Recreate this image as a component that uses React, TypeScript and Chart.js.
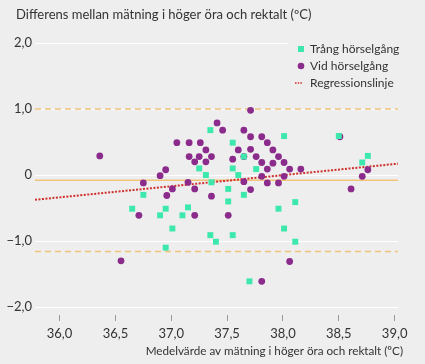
import { useEffect, useRef } from 'react';
import { Chart, registerables } from 'chart.js';

Chart.register(...registerables);

// ---- data ----
const tightLabel = 'Trång hörselgång';
const wideLabel = 'Vid hörselgång';
const regLabel = 'Regressionslinje';
const yTitle = 'Differens mellan mätning i höger öra och rektalt (ºC)';
const xTitle = 'Medelvärde av mätning i höger öra och rektalt (ºC)';

const tightX = [36.65, 36.75, 36.90, 36.95, 36.95, 37.01, 37.10, 37.15, 37.25, 37.31, 37.35, 37.36, 37.35, 37.40, 37.51, 37.51, 37.55, 37.55, 37.55, 37.60, 37.65, 37.65, 37.70, 37.76, 37.96, 38.01, 38.01, 38.11, 38.11, 38.50, 38.71, 38.76];
const tightY = [-0.51, -0.30, -0.61, -0.51, -1.10, -0.81, -0.61, -0.49, 0.10, 0.00, 0.68, -0.11, -0.91, -1.01, -0.21, -0.40, 0.49, 0.10, -0.91, 0.00, 0.28, -0.30, -1.61, 0.09, -0.51, 0.59, -0.81, -0.41, -1.01, 0.59, 0.19, 0.29];

const wideX = [36.36, 36.55, 36.71, 36.75, 36.90, 36.95, 36.96, 37.01, 37.05, 37.16, 37.16, 37.15, 37.21, 37.21, 37.21, 37.26, 37.25, 37.31, 37.31, 37.36, 37.36, 37.41, 37.46, 37.51, 37.55, 37.60, 37.65, 37.65, 37.65, 37.71, 37.71, 37.71, 37.71, 37.76, 37.81, 37.81, 37.81, 37.81, 37.86, 37.86, 37.86, 37.91, 37.91, 37.96, 37.96, 38.01, 38.01, 38.06, 38.06, 38.16, 38.51, 38.61, 38.71, 38.76];
const wideY = [0.29, -1.30, -0.61, -0.12, -0.01, 0.08, -0.31, -0.21, 0.49, 0.49, 0.28, -0.11, -0.21, -0.61, 0.20, 0.49, 0.28, 0.38, 0.20, 0.28, -0.32, 0.79, 0.68, -0.61, 0.24, 0.38, 0.68, -0.10, 0.28, 0.98, 0.58, 0.39, -0.22, 0.28, 0.58, 0.19, -0.02, -1.61, 0.49, 0.09, -0.12, 0.38, 0.18, 0.28, -0.12, 0.19, -0.02, 0.09, -1.31, 0.09, 0.58, -0.21, -0.02, 0.08];

const meanDiff = -0.08;
const upperLimit = 1.0;
const lowerLimit = -1.16;
const regX = [35.78, 39.03];
const regY = [-0.375, 0.172];

const xMin = 35.78;
const xMax = 39.03;
const yMin = -2.12;
const yMax = 2.0;
const xTicks = [36, 36.5, 37, 37.5, 38, 38.5, 39];
const xTickLabels = ['36,0', '36,5', '37,0', '37,5', '38,0', '38,5', '39,0'];
const yTicks = [-2, -1, 0, 1, 2];
const yTickLabels = ['−2,0', '−1,0', '0', '1,0', '2,0'];

// ---- styles ----
const BG = '#eeeeee';
const TEXT = '#333333';
const TEAL = '#3de8ac';
const PURPLE = '#8b2b8c';
const ORANGE = '#f0c27a';
const RED = '#d0302c';
const FONT = 'Lato, "Open Sans", sans-serif';

const zip = (xs: number[], ys: number[]) => xs.map((x, i) => ({ x, y: ys[i] }));

const overlay = {
  id: 'overlay',
  afterDraw(chart: any) {
    const ctx = chart.ctx as CanvasRenderingContext2D;
    ctx.save();
    // legend box
    ctx.fillStyle = BG;
    ctx.fillRect(288, 36, 137, 58);
    ctx.fillStyle = TEAL;
    ctx.fillRect(298, 46, 6, 6);
    ctx.fillStyle = PURPLE;
    ctx.beginPath();
    ctx.arc(301, 66, 3.3, 0, Math.PI * 2);
    ctx.fill();
    ctx.strokeStyle = RED;
    ctx.lineWidth = 1.5;
    ctx.setLineDash([1.5, 1.2]);
    ctx.beginPath();
    ctx.moveTo(295, 83);
    ctx.lineTo(303, 83);
    ctx.stroke();
    ctx.setLineDash([]);
    ctx.fillStyle = TEXT;
    ctx.font = `12px ${FONT}`;
    ctx.textBaseline = 'middle';
    ctx.textAlign = 'left';
    ctx.fillText(tightLabel, 310, 49);
    ctx.fillText(wideLabel, 310, 66);
    ctx.fillText(regLabel, 310, 83);
    // titles
    ctx.font = `13px ${FONT}`;
    ctx.fillText(yTitle, 16, 15);
    ctx.font = `11.7px ${FONT}`;
    ctx.textAlign = 'right';
    ctx.fillText(xTitle, 403, 351);
    ctx.restore();
  },
};

export default function App() {
  const ref = useRef<HTMLCanvasElement | null>(null);
  useEffect(() => {
    if (!ref.current) return;
    const chart = new Chart(ref.current, {
      type: 'scatter',
      data: {
        datasets: [
          {
            label: tightLabel,
            data: zip(tightX, tightY),
            backgroundColor: TEAL,
            borderWidth: 0,
            pointStyle: 'rect',
            pointRadius: 4.2,
            order: 0,
          },
          {
            label: wideLabel,
            data: zip(wideX, wideY),
            backgroundColor: PURPLE,
            borderWidth: 0,
            pointStyle: 'circle',
            pointRadius: 3.4,
            order: 1,
          },
          {
            type: 'line',
            label: regLabel,
            data: zip(regX, regY),
            borderColor: RED,
            borderWidth: 2,
            borderDash: [2, 1.5],
            pointRadius: 0,
            order: 5,
          } as any,
          {
            type: 'line',
            label: 'mean',
            data: zip([xMin, xMax], [meanDiff, meanDiff]),
            borderColor: ORANGE,
            borderWidth: 1.5,
            pointRadius: 0,
            order: 6,
          } as any,
          {
            type: 'line',
            label: 'upper',
            data: zip([xMin, xMax], [upperLimit, upperLimit]),
            borderColor: ORANGE,
            borderWidth: 1.5,
            borderDash: [6, 4],
            pointRadius: 0,
            order: 6,
          } as any,
          {
            type: 'line',
            label: 'lower',
            data: zip([xMin, xMax], [lowerLimit, lowerLimit]),
            borderColor: ORANGE,
            borderWidth: 1.5,
            borderDash: [6, 4],
            pointRadius: 0,
            order: 6,
          } as any,
        ],
      },
      options: {
        animation: false,
        responsive: false,
        events: [],
        layout: { padding: { left: 0, right: 27, top: 43, bottom: 0 } },
        plugins: { legend: { display: false }, tooltip: { enabled: false }, title: { display: false } },
        scales: {
          x: {
            type: 'linear',
            min: xMin,
            max: xMax,
            afterBuildTicks: (s: any) => { s.ticks = xTicks.map((v) => ({ value: v })); },
            afterFit: (s: any) => { s.height = 364 - 315; },
            border: { display: false },
            grid: { drawOnChartArea: false, drawTicks: true, tickLength: 6, color: '#999999', lineWidth: 1 },
            ticks: {
              color: TEXT,
              font: { family: FONT, size: 13 },
              padding: 5,
              callback: (v: any) => { const i = xTicks.indexOf(Number(v)); return i >= 0 ? xTickLabels[i] : ''; },
            },
          },
          y: {
            type: 'linear',
            min: yMin,
            max: yMax,
            afterBuildTicks: (s: any) => { s.ticks = yTicks.map((v) => ({ value: v })); },
            afterFit: (s: any) => { s.width = 35; },
            border: { display: false },
            grid: { drawTicks: false, color: '#ffffff', lineWidth: 1 },
            ticks: {
              color: TEXT,
              font: { family: FONT, size: 13 },
              padding: 3,
              callback: (v: any) => { const i = yTicks.indexOf(Number(v)); return i >= 0 ? yTickLabels[i] : ''; },
            },
          },
        },
      },
      plugins: [overlay],
    });
    return () => chart.destroy();
  }, []);
  return (
    <div style={{ position: 'fixed', left: 0, top: 0, width: 425, height: 364, background: BG }}>
      <canvas ref={ref} width={425} height={364} style={{ display: 'block' }} />
    </div>
  );
}
